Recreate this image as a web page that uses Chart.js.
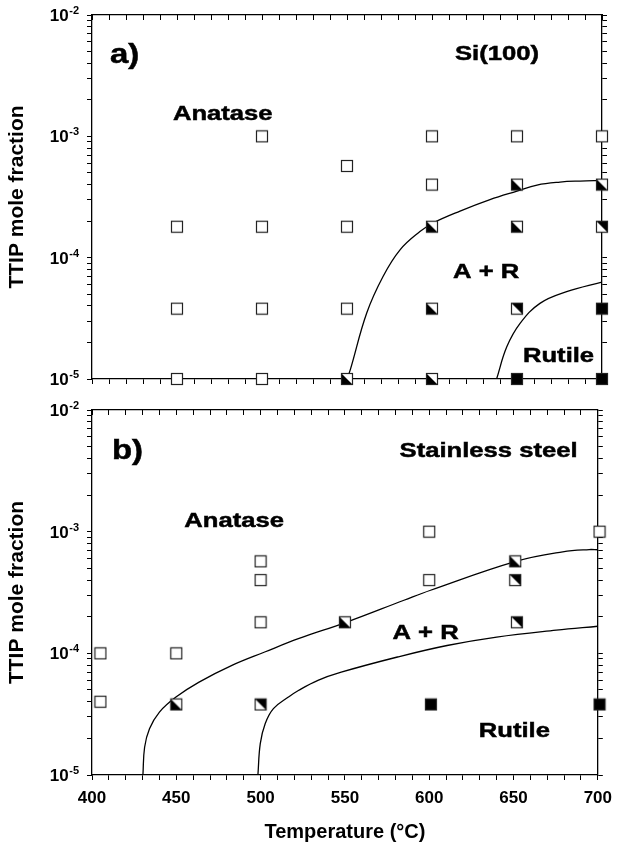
<!DOCTYPE html>
<html>
<head>
<meta charset="utf-8">
<script src="https://cdn.jsdelivr.net/npm/chart.js@4.4.0/dist/chart.umd.min.js"></script>
<style>
  body { margin: 0; background: #fff; }
  #wrap { position: relative; width: 620px; height: 845px; }
  #chartA { position: absolute; left: 0; top: 0; }
  #chartB { position: absolute; left: 0; top: 395px; }
</style>
</head>
<body>
<div id="wrap">
  <canvas id="chartA" width="620" height="395"></canvas>
  <canvas id="chartB" width="620" height="450"></canvas>
</div>
<script>
// a) Si(100): [temperature (°C), TTIP mole fraction]
const siAnatase = [[450, 1.8e-4], [450, 3.8e-5], [450, 1e-5], [500, 1e-3], [500, 1.8e-4], [500, 3.8e-5], [500, 1e-5],
  [550, 5.7e-4], [550, 1.8e-4], [550, 3.8e-5], [600, 1e-3], [600, 4e-4], [650, 1e-3], [700, 1e-3]];
const siMixed = [[550, 1e-5], [600, 1.8e-4], [600, 3.8e-5], [600, 1e-5], [650, 4e-4], [650, 1.8e-4], [700, 4e-4]];
const siMixedRich = [[650, 3.8e-5], [700, 1.8e-4]];
const siRutile = [[650, 1e-5], [700, 3.8e-5], [700, 1e-5]];
const siAnataseLimit = [[550, 1e-5], [552, 1.2e-5], [561.6, 3.5e-5], [571.2, 7e-5], [581.2, 1.16e-4], [592.9, 1.64e-4],
  [600.6, 1.93e-4], [616.5, 2.42e-4], [634.1, 3.01e-4], [650, 3.54e-4], [661.8, 3.97e-4], [675.3, 4.2e-4],
  [687.1, 4.28e-4], [700, 4.32e-4]];
const siRutileLimit = [[638, 1e-5], [644, 1.84e-5], [651.8, 2.87e-5], [663.5, 4.2e-5], [679.2, 5.24e-5], [700, 6.3e-5]];

// b) stainless steel
const ssAnatase = [[405, 1e-4], [405, 4e-5], [450, 1e-4], [500, 5.7e-4], [500, 4e-4], [500, 1.8e-4],
  [600, 1e-3], [600, 4e-4], [701, 1e-3]];
const ssMixed = [[450, 3.8e-5], [550, 1.8e-4], [651, 5.7e-4]];
const ssMixedRich = [[500, 3.8e-5], [651, 4e-4], [652, 1.8e-4]];
const ssRutile = [[601, 3.8e-5], [701, 3.8e-5]];
const ssAnataseLimit = [[430.2, 1e-5], [431.2, 1.69e-5], [434.1, 2.4e-5], [440, 3.29e-5], [449.8, 4.37e-5],
  [463.5, 5.8e-5], [483, 7.96e-5], [502.8, 1.03e-4], [522.4, 1.32e-4], [550.8, 1.8e-4], [585, 2.73e-4],
  [600.8, 3.3e-4], [651.4, 5.7e-4], [679.2, 6.83e-4], [694.9, 7.13e-4], [700, 7.1e-4]];
const ssRutileLimit = [[498.4, 1e-5], [499.8, 1.81e-5], [502.7, 2.64e-5], [507.6, 3.51e-5], [516.5, 4.37e-5],
  [522.4, 4.95e-5], [534, 6e-5], [547.8, 7e-5], [581.2, 9.33e-5], [610.6, 1.16e-4], [640, 1.36e-4],
  [675.3, 1.55e-4], [700, 1.67e-4]];

// axis ticks
const yDecades = [1e-5, 1e-4, 1e-3, 1e-2];
const yDecadeExp = ["-5", "-4", "-3", "-2"];
const yMinorSteps = [1, 2, 3, 4, 5, 6, 7, 8, 9];

const FONT = "'Liberation Sans', Arial, sans-serif";

// region names, anchored at (temperature, mole fraction)
const siLabels = [
  { text: "a)", t: 410.6, f: 4.0e-3, size: 27 },
  { text: "Si(100)", t: 613.5, f: 4.25e-3, size: 21 },
  { text: "Anatase", t: 447.6, f: 1.36e-3, size: 21 },
  { text: "A + R", t: 612.4, f: 6.8e-5, size: 21 },
  { text: "Rutile", t: 653.5, f: 1.39e-5, size: 21 },
];
const ssLabels = [
  { text: "b)", t: 411.8, f: 3.95e-3, size: 27 },
  { text: "Stainless steel", t: 582.4, f: 4.13e-3, size: 21 },
  { text: "Anatase", t: 454.7, f: 1.1e-3, size: 21 },
  { text: "A + R", t: 578.2, f: 1.32e-4, size: 21 },
  { text: "Rutile", t: 629.4, f: 2.07e-5, size: 21 },
];

const makeMarker = (kind) => {
  const c = document.createElement("canvas");
  c.width = 14;
  c.height = 14;
  const g = c.getContext("2d");
  g.fillStyle = kind === "filled" ? "#000" : "#fff";
  g.fillRect(1.5, 1.5, 11, 11);
  if (kind === "half" || kind === "rich") {
    g.fillStyle = "#000";
    g.beginPath();
    g.moveTo(1.5, 1.5);
    if (kind === "half") g.lineTo(1.5, 12.5);
    else g.lineTo(12.5, 1.5);
    g.lineTo(12.5, 12.5);
    g.closePath();
    g.fill();
  }
  g.strokeStyle = "#222";
  g.lineWidth = 1.2;
  g.strokeRect(1.5, 1.5, 11, 11);
  return c;
};
const markers = { open: makeMarker("open"), half: makeMarker("half"), rich: makeMarker("rich"), filled: makeMarker("filled") };

const pts = (arr) => arr.map(([x, y]) => ({ x: x, y: y }));
const markerSet = (data, kind) => ({
  data: pts(data),
  pointStyle: markers[kind],
  pointRadius: 6,
  showLine: false,
  clip: false,
  order: 1,
});
const curveSet = (data) => ({
  data: pts(data),
  showLine: true,
  pointRadius: 0,
  borderColor: "#000",
  borderWidth: 1.3,
  tension: 0.4,
  fill: false,
  order: 2,
});

// 10^n labels with a raised exponent
const decadeLabels = {
  id: "decadeLabels",
  afterDraw(chart) {
    const { ctx } = chart;
    const y = chart.scales.y;
    const right = y.right - 13;
    ctx.save();
    ctx.fillStyle = "#000";
    ctx.textAlign = "right";
    ctx.textBaseline = "alphabetic";
    yDecades.forEach((v, i) => {
      const py = y.getPixelForValue(v);
      ctx.font = `bold 11px ${FONT}`;
      const w = ctx.measureText(yDecadeExp[i]).width;
      ctx.fillText(yDecadeExp[i], right, py - 1);
      ctx.font = `bold 17px ${FONT}`;
      ctx.fillText("10", right - w - 0.5, py + 6);
    });
    ctx.restore();
  },
};

const phaseLabels = {
  id: "phaseLabels",
  afterDatasetsDraw(chart, args, opts) {
    const { ctx } = chart;
    const x = chart.scales.x;
    const y = chart.scales.y;
    ctx.save();
    ctx.fillStyle = "#000";
    ctx.strokeStyle = "#000";
    ctx.lineWidth = 0.5;
    ctx.textAlign = "left";
    ctx.textBaseline = "alphabetic";
    for (const item of opts.items) {
      ctx.font = `bold ${item.size}px ${FONT}`;
      ctx.save();
      ctx.translate(x.getPixelForValue(item.t), y.getPixelForValue(item.f));
      ctx.scale(1.22, 1); // lettering in the figure is set wide
      ctx.fillText(item.text, 0, 0);
      ctx.strokeText(item.text, 0, 0);
      ctx.restore();
    }
    ctx.restore();
  },
};

const logTicks = (s) => {
  const out = [];
  yDecades.forEach((d, i) => {
    if (i === yDecades.length - 1) out.push({ value: d });
    else yMinorSteps.forEach((m) => out.push({ value: d * m }));
  });
  s.ticks = out;
};

const axisBorder = { display: true, color: "#000", width: 1.3 };
const tickFont = { family: FONT, size: 17, weight: "bold" };

const makeScales = (showX, bottomH) => ({
  x: {
    type: "linear",
    position: "bottom",
    min: 400,
    max: 700,
    border: axisBorder,
    grid: { drawOnChartArea: false, tickLength: 5, color: "#000", tickWidth: 1 },
    ticks: {
      display: showX,
      stepSize: 10,
      autoSkip: false,
      maxRotation: 0,
      padding: 8,
      color: "#000",
      font: tickFont,
      callback: (v) => (v % 50 === 0 ? v : ""),
    },
    title: {
      display: showX,
      text: "Temperature (°C)",
      color: "#000",
      font: { family: FONT, size: 20, weight: "bold" },
      padding: { top: 2, bottom: 1 },
    },
    afterFit: (s) => {
      s.height = bottomH;
    },
  },
  xTop: {
    type: "linear",
    position: "top",
    min: 400,
    max: 700,
    border: axisBorder,
    grid: { drawOnChartArea: false, tickLength: -5, color: "#000", tickWidth: 1 },
    ticks: { display: false, stepSize: 10, autoSkip: false },
    afterFit: (s) => {
      s.height = 15;
    },
  },
  y: {
    type: "logarithmic",
    position: "left",
    min: 1e-5,
    max: 1e-2,
    border: axisBorder,
    grid: { drawOnChartArea: false, tickLength: 5, color: "#000", tickWidth: 1 },
    ticks: { display: false, autoSkip: false },
    afterBuildTicks: logTicks,
    title: {
      display: true,
      text: "TTIP mole fraction",
      color: "#000",
      font: { family: FONT, size: 21, weight: "bold" },
      padding: { top: 5, bottom: 0 },
    },
    afterFit: (s) => {
      s.width = 92;
    },
  },
  yRight: {
    type: "logarithmic",
    position: "right",
    min: 1e-5,
    max: 1e-2,
    border: axisBorder,
    grid: { drawOnChartArea: false, tickLength: 5, color: "#000", tickWidth: 1 },
    ticks: { display: false, autoSkip: false },
    afterBuildTicks: logTicks,
    afterFit: (s) => {
      s.width = 18;
    },
  },
});

const makeChart = (id, sets, labels, showX, bottomH) =>
  new Chart(document.getElementById(id), {
    type: "scatter",
    data: { datasets: sets },
    options: {
      responsive: false,
      animation: false,
      events: [],
      layout: { padding: 0, autoPadding: false },
      plugins: { legend: { display: false }, tooltip: { enabled: false }, phaseLabels: { items: labels } },
      scales: makeScales(showX, bottomH),
    },
    plugins: [phaseLabels, decadeLabels],
  });

makeChart(
  "chartA",
  [
    markerSet(siAnatase, "open"),
    markerSet(siMixed, "half"),
    markerSet(siMixedRich, "rich"),
    markerSet(siRutile, "filled"),
    curveSet(siAnataseLimit),
    curveSet(siRutileLimit),
  ],
  siLabels,
  false,
  16
);

makeChart(
  "chartB",
  [
    markerSet(ssAnatase, "open"),
    markerSet(ssMixed, "half"),
    markerSet(ssMixedRich, "rich"),
    markerSet(ssRutile, "filled"),
    curveSet(ssAnataseLimit),
    curveSet(ssRutileLimit),
  ],
  ssLabels,
  true,
  70
);
</script>
</body>
</html>
